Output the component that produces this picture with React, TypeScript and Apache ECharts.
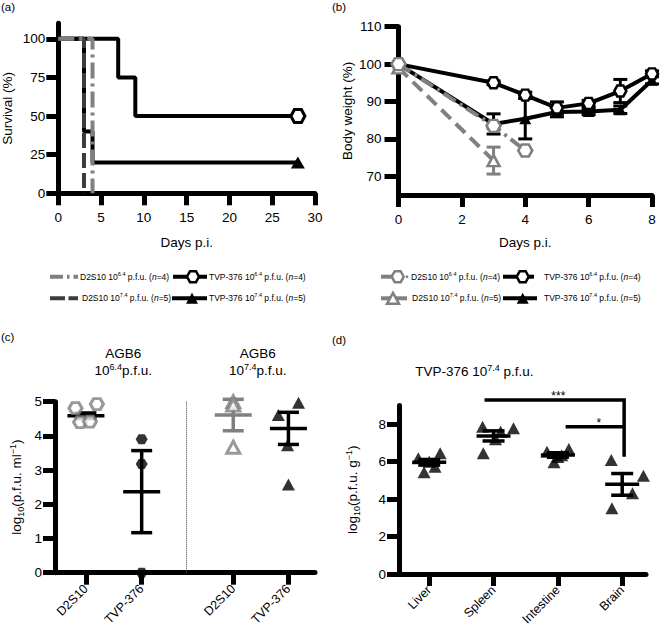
import React, { useEffect, useRef } from 'react';
import * as echarts from 'echarts';

const FONT = '"Liberation Sans", Arial, Helvetica, sans-serif';
const GRAY = '#808080';
const DARK = '#3c3c3c';
const HEX = 'path://M-1,0 L-0.5,-0.866 L0.5,-0.866 L1,0 L0.5,0.866 L-0.5,0.866 Z';

// ---------- Panel (a): survival ----------
const survTvp64Days = [0, 7, 9, 28];
const survTvp64Pct = [100, 75, 50, 50];
const survTvp74Days = [0, 3, 4, 28];
const survTvp74Pct = [100, 40, 20, 20];
const survD2s64Days = [0, 4];
const survD2s64Pct = [100, 0];
const survD2s74Days = [0, 3];
const survD2s74Pct = [100, 0];
const survYTicks = [0, 25, 50, 75, 100];

// ---------- Panel (b): body weight ----------
const bwDays = [0, 3, 4, 5, 6, 7, 8];
const bwTvp64 = [100, 95.0, 91.7, 88.3, 89.5, 92.8, 97.4];
const bwTvp64Sem = [0, 0.5, 0.8, 1.6, 0.8, 3.1, 0.8];
const bwTvp74 = [100, 84.0, 85.4, 87.2, 87.3, 87.8, 95.7];
const bwTvp74Sem = [0, 2.7, 5.4, 1.3, 0.8, 1.0, 1.0];
const bwD2s64Days = [0, 3, 4];
const bwD2s64 = [100, 83.5, 76.9];
const bwD2s64Sem = [0, 0.8, 0];
const bwD2s74Days = [0, 3];
const bwD2s74 = [99, 74.2];
const bwD2s74Sem = [0, 3.6];
const bwYTicks = [70, 80, 90, 100, 110];

// ---------- Panel (c): AGB6 titres ----------
const cLabels = ['D2S10', 'TVP-376', 'D2S10', 'TVP-376'];
const cPos = [1.07, 3.0, 6.17, 8.08];
const cDivider = 4.55;
const cD2s64Vals = [4.81, 4.93, 4.4, 4.42];
const cD2s64Jit = [-0.36, 0.38, -0.2, 0.14];
const cTvp64Vals = [3.9, 3.18, 0];
const cTvp64Jit = [0, 0, 0];
const cD2s74Vals = [5.0, 4.9, 3.67];
const cD2s74Jit = [0, 0, 0];
const cTvp74Vals = [4.97, 4.61, 3.73, 2.58];
const cTvp74Jit = [0.35, -0.35, -0.03, 0];
const cMeans = [4.59, 2.37, 4.61, 4.22];
const cSems = [0.08, 1.2, 0.46, 0.47];

// ---------- Panel (d): organ titres ----------
const dOrgans = ['Liver', 'Spleen', 'Intestine', 'Brain'];
const dLiver = [6.18, 6.45, 5.44, 5.73, 6.0];
const dLiverJit = [-0.17, 0.17, -0.08, 0.09, 0];
const dSpleen = [7.87, 7.79, 6.45, 7.6, 7.2];
const dSpleenJit = [-0.17, 0.31, -0.16, 0.11, 0.03];
const dIntestine = [6.54, 6.68, 5.97, 6.35, 6.25];
const dIntestineJit = [-0.17, 0.17, -0.06, 0.06, 0];
const dBrain = [6.09, 5.25, 4.31, 3.51];
const dBrainJit = [-0.17, 0.33, 0.16, -0.16];
const dMeans = [5.97, 7.38, 6.36, 4.79];
const dSems = [0.15, 0.27, 0.12, 0.58];
const dYTicks = [0, 2, 4, 6, 8];
const dBrackets = [
  { x1: 1.86, x2: 4.03, y: 9.3, yEnd: 6.27, text: '***' },
  { x1: 3.12, x2: 4.03, y: 7.87, yEnd: 7.87, text: '*' },
];

const axisCommon = (extra: any = {}) => ({
  axisLine: { show: true, onZero: false, lineStyle: { color: '#000', width: 5 } },
  axisTick: { show: true, length: 12, lineStyle: { color: '#000', width: 5 } },
  splitLine: { show: false },
  ...extra,
});

const labelStyle = { color: '#000', fontSize: 13.5, fontFamily: FONT };

const steps = (days: number[], vals: number[], sym: string | null, size: any, item: any) =>
  days.map((d, i) => ({
    value: [d, vals[i]],
    symbol: i === days.length - 1 && sym ? sym : 'none',
    symbolSize: size,
    itemStyle: item,
  }));

const errBars = (meanHalf: number, capHalf: number, lw: number) => (params: any, api: any) => {
  const x = api.value(0);
  const m = api.value(1);
  const s = api.value(2);
  const color = api.value(3) ? GRAY : '#000';
  const pm = api.coord([x, m]);
  const pt = api.coord([x, m + s]);
  const pb = api.coord([x, m - s]);
  const st = { stroke: color, lineWidth: lw };
  const children: any[] = [];
  if (meanHalf > 0) children.push({ type: 'line', shape: { x1: pm[0] - meanHalf, y1: pm[1], x2: pm[0] + meanHalf, y2: pm[1] }, style: st });
  if (s > 0) {
    children.push({ type: 'line', shape: { x1: pt[0], y1: pt[1], x2: pb[0], y2: pb[1] }, style: st });
    children.push({ type: 'line', shape: { x1: pt[0] - capHalf, y1: pt[1], x2: pt[0] + capHalf, y2: pt[1] }, style: st });
    children.push({ type: 'line', shape: { x1: pb[0] - capHalf, y1: pb[1], x2: pb[0] + capHalf, y2: pb[1] }, style: st });
  }
  return { type: 'group', children };
};

const hexPts = (cx: number, cy: number, w: number, h: number) => [
  [cx - w / 2, cy], [cx - w / 4, cy - h / 2], [cx + w / 4, cy - h / 2],
  [cx + w / 2, cy], [cx + w / 4, cy + h / 2], [cx - w / 4, cy + h / 2],
];
const triPts = (cx: number, cy: number, w: number, h: number) => [
  [cx, cy - h / 2], [cx + w / 2, cy + h / 2], [cx - w / 2, cy + h / 2],
];

const legRich = {
  sup: { fontSize: 5.5, padding: [0, 0, 6, 0], fill: '#000', fontFamily: FONT },
  i: { fontSize: 8.5, fontStyle: 'italic', fill: '#000', fontFamily: FONT },
};
const legText = (x: number, y: number, text: string) => ({
  type: 'text', x, y,
  style: { text, fontSize: 8.5, fontFamily: FONT, fill: '#000', verticalAlign: 'middle', align: 'left', rich: legRich },
});

const titleRich = { s: { fontSize: 9, padding: [0, 0, 6, 0], fill: '#000', fontFamily: FONT } };

export default function App() {
  const ref = useRef<HTMLDivElement>(null);
  useEffect(() => {
    document.body.style.margin = '0';
    const chart = echarts.init(ref.current!, null, { renderer: 'svg' });

    const r1 = 276.7, r2 = 298.3;
    const graphic: any[] = [
      { type: 'text', x: 1, y: 1, style: { text: '(a)', fontSize: 11.5, fontFamily: FONT, fill: '#000' } },
      { type: 'text', x: 332, y: 1, style: { text: '(b)', fontSize: 11.5, fontFamily: FONT, fill: '#000' } },
      { type: 'text', x: 1, y: 331, style: { text: '(c)', fontSize: 11.5, fontFamily: FONT, fill: '#000' } },
      { type: 'text', x: 332, y: 334, style: { text: '(d)', fontSize: 11.5, fontFamily: FONT, fill: '#000' } },
      // panel (c) titles
      { type: 'text', x: 123.3, y: 353, style: { text: 'AGB6', fontSize: 13.5, fontFamily: FONT, fill: '#000', align: 'center', verticalAlign: 'middle' } },
      { type: 'text', x: 123.3, y: 370, style: { text: '10{s|6.4}p.f.u.', fontSize: 13.5, fontFamily: FONT, fill: '#000', align: 'center', verticalAlign: 'middle', rich: titleRich } },
      { type: 'text', x: 257.7, y: 353, style: { text: 'AGB6', fontSize: 13.5, fontFamily: FONT, fill: '#000', align: 'center', verticalAlign: 'middle' } },
      { type: 'text', x: 257.7, y: 370, style: { text: '10{s|7.4}p.f.u.', fontSize: 13.5, fontFamily: FONT, fill: '#000', align: 'center', verticalAlign: 'middle', rich: titleRich } },
      // panel (d) title
      { type: 'text', x: 474.3, y: 371, style: { text: 'TVP-376 10{s|7.4} p.f.u.', fontSize: 13.5, fontFamily: FONT, fill: '#000', align: 'center', verticalAlign: 'middle', rich: titleRich } },

      // legend (a)
      { type: 'line', shape: { x1: 50, y1: r1, x2: 78, y2: r1 }, style: { stroke: GRAY, lineWidth: 4, lineDash: [13, 4, 2.5, 4] } },
      legText(80, r1, 'D2S10 10{sup|6.4} p.f.u. ({i|n}=4)'),
      { type: 'line', shape: { x1: 173, y1: r1, x2: 207, y2: r1 }, style: { stroke: '#000', lineWidth: 4 } },
      { type: 'polygon', shape: { points: hexPts(193, r1, 12, 11) }, style: { fill: '#fff', stroke: '#000', lineWidth: 2.5 } },
      legText(209, r1, 'TVP-376 10{sup|6.4} p.f.u. ({i|n}=4)'),
      { type: 'line', shape: { x1: 50, y1: r2, x2: 78, y2: r2 }, style: { stroke: DARK, lineWidth: 4, lineDash: [15, 3.5] } },
      legText(82, r2, 'D2S10 10{sup|7.4} p.f.u. ({i|n}=5)'),
      { type: 'line', shape: { x1: 172, y1: r2, x2: 207, y2: r2 }, style: { stroke: '#000', lineWidth: 4 } },
      { type: 'polygon', shape: { points: triPts(192, r2, 12, 11) }, style: { fill: '#000' } },
      legText(209, r2, 'TVP-376 10{sup|7.4} p.f.u. ({i|n}=5)'),

      // legend (b)
      { type: 'line', shape: { x1: 381, y1: r1, x2: 398, y2: r1 }, style: { stroke: GRAY, lineWidth: 4 } },
      { type: 'polygon', shape: { points: hexPts(397.7, r1, 12, 11) }, style: { fill: '#fff', stroke: GRAY, lineWidth: 2.5 } },
      { type: 'circle', shape: { cx: 407, cy: r1, r: 1.4 }, style: { fill: GRAY } },
      legText(411, r1, 'D2S10 10{sup|6.4} p.f.u. ({i|n}=4)'),
      { type: 'line', shape: { x1: 503, y1: r1, x2: 534, y2: r1 }, style: { stroke: '#000', lineWidth: 4 } },
      { type: 'polygon', shape: { points: hexPts(522.7, r1, 12, 11) }, style: { fill: '#fff', stroke: '#000', lineWidth: 2.5 } },
      legText(544, r1, 'TVP-376 10{sup|6.4} p.f.u. ({i|n}=4)'),
      { type: 'line', shape: { x1: 381, y1: r2, x2: 407, y2: r2 }, style: { stroke: GRAY, lineWidth: 4 } },
      { type: 'polygon', shape: { points: triPts(393, r2, 12, 11) }, style: { fill: '#fff', stroke: GRAY, lineWidth: 2.5 } },
      legText(412, r2, 'D2S10 10{sup|7.4} p.f.u. ({i|n}=5)'),
      { type: 'line', shape: { x1: 503, y1: r2, x2: 537, y2: r2 }, style: { stroke: '#000', lineWidth: 4 } },
      { type: 'polygon', shape: { points: triPts(522.7, r2, 12, 11) }, style: { fill: '#000' } },
      legText(544, r2, 'TVP-376 10{sup|7.4} p.f.u. ({i|n}=5)'),
    ];

    const scatterPts = (pos: number, vals: number[], jit: number[]) => vals.map((v, i) => [pos + jit[i], v]);
    const rotLabel = { color: '#000', fontSize: 12.5, fontFamily: FONT, margin: 14, rotate: 45 };

    const option: any = {
      animation: false,
      textStyle: { fontFamily: FONT },
      grid: [
        { left: 58.3, top: 23.3, width: 256.7, height: 170, outerBoundsMode: 'none' },
        { left: 398.5, top: 26.7, width: 253.5, height: 168.3, outerBoundsMode: 'none' },
        { left: 55, top: 401.7, width: 260, height: 171, outerBoundsMode: 'none' },
        { left: 399, top: 405.6, width: 247, height: 168.4, outerBoundsMode: 'none' },
      ],
      xAxis: [
        {
          gridIndex: 0, type: 'value', min: 0, max: 30, interval: 5,
          name: 'Days p.i.', nameLocation: 'middle', nameGap: 42, nameTextStyle: labelStyle,
          axisLabel: { ...labelStyle, margin: 17 }, ...axisCommon(),
        },
        {
          gridIndex: 1, type: 'value', min: 0, max: 8, interval: 2,
          name: 'Days p.i.', nameLocation: 'middle', nameGap: 40, nameTextStyle: labelStyle,
          axisLabel: { ...labelStyle, margin: 17 }, ...axisCommon(),
        },
        {
          gridIndex: 2, type: 'value', min: 0, max: 9,
          axisLabel: {
            ...rotLabel, customValues: cPos,
            formatter: (v: number) => { const k = cPos.findIndex((p) => Math.abs(p - v) < 1e-6); return k >= 0 ? cLabels[k] : ''; },
          },
          ...axisCommon({ axisTick: { show: true, length: 12, customValues: cPos, lineStyle: { color: '#000', width: 5 } } }),
        },
        {
          gridIndex: 3, type: 'value', min: 0.53, max: 4.37,
          axisLabel: {
            ...rotLabel, customValues: [1, 2, 3, 4],
            formatter: (v: number) => dOrgans[Math.round(v) - 1] || '',
          },
          ...axisCommon({ axisTick: { show: true, length: 12, customValues: [1, 2, 3, 4], lineStyle: { color: '#000', width: 5 } } }),
        },
      ],
      yAxis: [
        {
          gridIndex: 0, type: 'value', min: 0, max: 110,
          name: 'Survival (%)', nameLocation: 'middle', nameRotate: 90, nameGap: 44, nameTextStyle: labelStyle,
          axisLabel: { ...labelStyle, margin: 13, customValues: survYTicks },
          ...axisCommon({ axisTick: { show: true, length: 12, customValues: survYTicks, lineStyle: { color: '#000', width: 5 } } }),
        },
        {
          gridIndex: 1, type: 'value', min: 65, max: 110,
          name: 'Body weight (%)', nameLocation: 'middle', nameRotate: 90, nameGap: 44, nameTextStyle: labelStyle,
          axisLabel: { ...labelStyle, margin: 17, customValues: bwYTicks },
          ...axisCommon({ axisTick: { show: true, length: 14, customValues: bwYTicks, lineStyle: { color: '#000', width: 5 } } }),
        },
        {
          gridIndex: 2, type: 'value', min: 0, max: 5, interval: 1,
          name: 'log{sub|10}(p.f.u. ml{sup|−1})', nameLocation: 'middle', nameRotate: 90, nameGap: 30,
          nameTextStyle: { ...labelStyle, rich: { sub: { fontSize: 9, padding: [8, 0, 0, 0], color: '#000' }, sup: { fontSize: 9, padding: [0, 0, 8, 0], color: '#000' } } },
          axisLabel: { ...labelStyle, margin: 13 }, ...axisCommon(),
        },
        {
          gridIndex: 3, type: 'value', min: 0, max: 9,
          name: 'log{sub|10}(p.f.u. g{sup|−1})', nameLocation: 'middle', nameRotate: 90, nameGap: 38,
          nameTextStyle: { ...labelStyle, rich: { sub: { fontSize: 9, padding: [8, 0, 0, 0], color: '#000' }, sup: { fontSize: 9, padding: [0, 0, 8, 0], color: '#000' } } },
          axisLabel: { ...labelStyle, margin: 13, customValues: dYTicks },
          ...axisCommon({ axisTick: { show: true, length: 12, customValues: dYTicks, lineStyle: { color: '#000', width: 5 } } }),
        },
      ],
      graphic,
      series: [
        // ---- (a)
        {
          name: 'TVP-376 10^6.4 (a)', type: 'line', xAxisIndex: 0, yAxisIndex: 0, step: 'end',
          data: steps(survTvp64Days, survTvp64Pct, HEX, [14, 13], { color: '#fff', borderColor: '#000', borderWidth: 3 }),
          lineStyle: { color: '#000', width: 4 }, showSymbol: true,
        },
        {
          name: 'TVP-376 10^7.4 (a)', type: 'line', xAxisIndex: 0, yAxisIndex: 0, step: 'end',
          data: steps(survTvp74Days, survTvp74Pct, 'triangle', [14, 12], { color: '#000', borderWidth: 0 }),
          lineStyle: { color: '#000', width: 4 }, showSymbol: true,
        },
        {
          name: 'D2S10 10^7.4 (a)', type: 'line', xAxisIndex: 0, yAxisIndex: 0, step: 'end',
          data: steps(survD2s74Days, survD2s74Pct, null, 0, {}),
          lineStyle: { color: DARK, width: 4, type: [15, 5] }, showSymbol: false,
        },
        {
          name: 'D2S10 10^6.4 (a)', type: 'line', xAxisIndex: 0, yAxisIndex: 0, step: 'end',
          data: steps(survD2s64Days, survD2s64Pct, null, 0, {}),
          lineStyle: { color: GRAY, width: 4, type: [16, 5, 3, 5] }, showSymbol: false,
        },
        // ---- (b)
        {
          type: 'custom', xAxisIndex: 1, yAxisIndex: 1, clip: false,
          renderItem: errBars(0, 7, 3),
          encode: { x: 0, y: 1 },
          data: [
            ...bwDays.map((d, i) => [d, bwTvp64[i], bwTvp64Sem[i], 0]),
            ...bwDays.map((d, i) => [d, bwTvp74[i], bwTvp74Sem[i], 0]),
            ...bwD2s64Days.map((d, i) => [d, bwD2s64[i], bwD2s64Sem[i], 1]),
            ...bwD2s74Days.map((d, i) => [d, bwD2s74[i], bwD2s74Sem[i], 1]),
          ],
        },
        {
          name: 'TVP-376 10^7.4 (b)', type: 'line', xAxisIndex: 1, yAxisIndex: 1,
          data: bwDays.map((d, i) => [d, bwTvp74[i]]),
          symbol: 'triangle', symbolSize: [12, 11],
          itemStyle: { color: '#000' }, lineStyle: { color: '#000', width: 4 },
        },
        {
          name: 'TVP-376 10^6.4 (b)', type: 'line', xAxisIndex: 1, yAxisIndex: 1,
          data: bwDays.map((d, i) => [d, bwTvp64[i]]),
          symbol: HEX, symbolSize: [12, 11],
          itemStyle: { color: '#fff', borderColor: '#000', borderWidth: 2.5 }, lineStyle: { color: '#000', width: 4 },
        },
        {
          name: 'D2S10 10^7.4 (b)', type: 'line', xAxisIndex: 1, yAxisIndex: 1,
          data: bwD2s74Days.map((d, i) => [d, bwD2s74[i]]),
          symbol: 'triangle', symbolSize: [12, 11],
          itemStyle: { color: '#fff', borderColor: GRAY, borderWidth: 2.5 }, lineStyle: { color: GRAY, width: 4, type: [13, 7] },
        },
        {
          name: 'D2S10 10^6.4 (b)', type: 'line', xAxisIndex: 1, yAxisIndex: 1,
          data: bwD2s64Days.map((d, i) => [d, bwD2s64[i]]),
          symbol: HEX, symbolSize: [14, 12],
          itemStyle: { color: '#fff', borderColor: GRAY, borderWidth: 2.5 }, lineStyle: { color: GRAY, width: 4, type: [14, 5, 3, 5] },
        },
        // ---- (c)
        {
          name: 'D2S10 10^6.4 (c)', type: 'scatter', xAxisIndex: 2, yAxisIndex: 2,
          data: scatterPts(cPos[0], cD2s64Vals, cD2s64Jit), symbol: HEX, symbolSize: [13, 11],
          itemStyle: { color: '#fff', borderColor: GRAY, borderWidth: 3 },
          markLine: {
            silent: true, symbol: 'none', label: { show: false },
            lineStyle: { color: '#444', width: 1, type: 'dotted' },
            data: [{ xAxis: cDivider }],
          },
        },
        {
          name: 'TVP-376 10^6.4 (c)', type: 'scatter', xAxisIndex: 2, yAxisIndex: 2, clip: false,
          data: scatterPts(cPos[1], cTvp64Vals, cTvp64Jit), symbol: HEX, symbolSize: [12, 10],
          itemStyle: { color: '#000' },
        },
        {
          name: 'D2S10 10^7.4 (c)', type: 'scatter', xAxisIndex: 2, yAxisIndex: 2, clip: false,
          data: scatterPts(cPos[2], cD2s74Vals, cD2s74Jit), symbol: 'triangle', symbolSize: [13, 12],
          itemStyle: { color: '#fff', borderColor: GRAY, borderWidth: 3 },
        },
        {
          name: 'TVP-376 10^7.4 (c)', type: 'scatter', xAxisIndex: 2, yAxisIndex: 2, clip: false,
          data: scatterPts(cPos[3], cTvp74Vals, cTvp74Jit), symbol: 'triangle', symbolSize: [13, 12],
          itemStyle: { color: '#000' },
        },
        {
          type: 'custom', xAxisIndex: 2, yAxisIndex: 2, clip: false,
          renderItem: errBars(18.5, 10.5, 3.5), encode: { x: 0, y: 1 },
          data: cPos.map((p, i) => [p, cMeans[i], cSems[i], i === 2 ? 1 : 0]),
        },
        // ---- (d)
        ...[
          [dLiver, dLiverJit], [dSpleen, dSpleenJit], [dIntestine, dIntestineJit], [dBrain, dBrainJit],
        ].map(([vals, jit], k) => ({
          name: dOrgans[k], type: 'scatter', xAxisIndex: 3, yAxisIndex: 3, clip: false,
          data: scatterPts(k + 1, vals as number[], jit as number[]), symbol: 'triangle', symbolSize: [13, 12],
          itemStyle: { color: '#000' },
        })),
        {
          type: 'custom', xAxisIndex: 3, yAxisIndex: 3, clip: false,
          renderItem: errBars(17, 11, 3.5), encode: { x: 0, y: 1 },
          data: dOrgans.map((_, i) => [i + 1, dMeans[i], dSems[i], 0]),
        },
        {
          type: 'custom', xAxisIndex: 3, yAxisIndex: 3, clip: false,
          encode: { x: [0, 1], y: [2, 3] },
          data: dBrackets.map((b) => [b.x1, b.x2, b.y, b.yEnd]),
          renderItem: (params: any, api: any) => {
            const x1 = api.value(0), x2 = api.value(1), y = api.value(2), yEnd = api.value(3);
            const text = dBrackets[params.dataIndex].text;
            const a = api.coord([x1, y]);
            const b = api.coord([x2, y]);
            const c = api.coord([x2, yEnd]);
            return {
              type: 'group',
              children: [
                { type: 'polyline', shape: { points: [a, b, c] }, style: { stroke: '#000', lineWidth: 3.5, fill: 'none' } },
                { type: 'text', x: (a[0] + b[0]) / 2 + 4, y: a[1] + 2, style: { text, fontSize: 12, fontFamily: FONT, fill: '#000', align: 'center', verticalAlign: 'bottom' } },
              ],
            };
          },
        },
      ],
    };
    chart.setOption(option);
    return () => chart.dispose();
  }, []);
  return <div ref={ref} style={{ width: 662, height: 631 }} />;
}
